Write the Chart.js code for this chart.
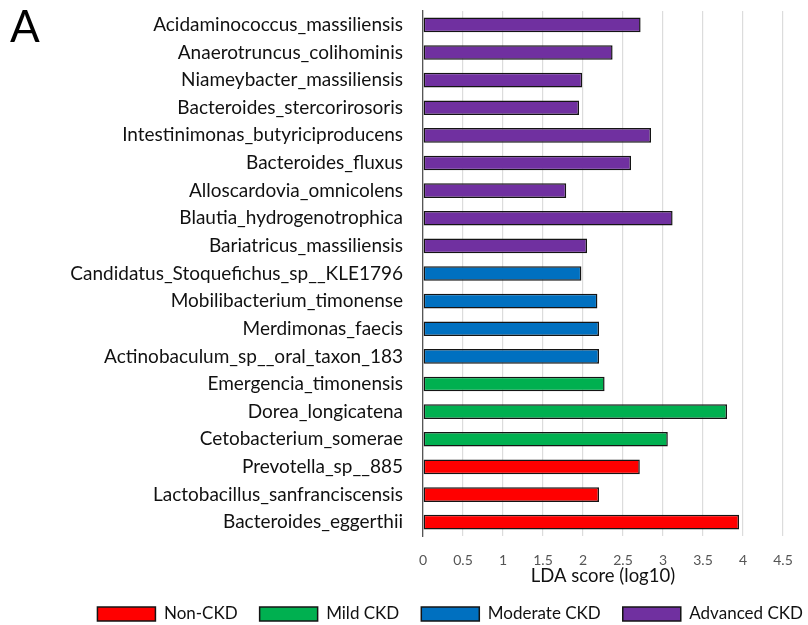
<!DOCTYPE html>
<html>
<head>
<meta charset="utf-8">
<script src="https://cdn.jsdelivr.net/npm/chart.js@4/dist/chart.umd.min.js"></script>
<style>
  html, body { margin: 0; padding: 0; background: #fff; }
  #wrap { width: 808px; height: 625px; position: relative; }
</style>
</head>
<body>
<div id="wrap"><canvas id="lda"></canvas></div>
<script>
// Taxa, top to bottom
const categories = [
  "Acidaminococcus_massiliensis",
  "Anaerotruncus_colihominis",
  "Niameybacter_massiliensis",
  "Bacteroides_stercorirosoris",
  "Intestinimonas_butyriciproducens",
  "Bacteroides_fluxus",
  "Alloscardovia_omnicolens",
  "Blautia_hydrogenotrophica",
  "Bariatricus_massiliensis",
  "Candidatus_Stoquefichus_sp__KLE1796",
  "Mobilibacterium_timonense",
  "Merdimonas_faecis",
  "Actinobaculum_sp__oral_taxon_183",
  "Emergencia_timonensis",
  "Dorea_longicatena",
  "Cetobacterium_somerae",
  "Prevotella_sp__885",
  "Lactobacillus_sanfranciscensis",
  "Bacteroides_eggerthii"
];

// LDA scores (log10) per group; null where the taxon belongs to another group
const nonCkd = [null, null, null, null, null, null, null, null, null, null,
  null, null, null, null, null, null, 2.71, 2.20, 3.95];
const mildCkd = [null, null, null, null, null, null, null, null, null, null,
  null, null, null, 2.27, 3.80, 3.06, null, null, null];
const moderateCkd = [null, null, null, null, null, null, null, null, null, 1.98,
  2.18, 2.20, 2.20, null, null, null, null, null, null];
const advancedCkd = [2.72, 2.37, 1.99, 1.95, 2.85, 2.60, 1.79, 3.12, 2.05, null,
  null, null, null, null, null, null, null, null, null];

const groupNames = ["Non-CKD", "Mild CKD", "Moderate CKD", "Advanced CKD"];
const xTicks = [0, 0.5, 1, 1.5, 2, 2.5, 3, 3.5, 4, 4.5];

const FONT = "Lato, 'Open Sans', sans-serif";

function series(label, values, color) {
  return {
    label: label,
    data: values,
    backgroundColor: color,
    borderColor: "#141414",
    borderWidth: 1.5,
    borderSkipped: false,
    barPercentage: 0.53,
    categoryPercentage: 1.0
  };
}

// Panel letter in the top-left corner
const panelLetter = {
  id: "panelLetter",
  afterDraw(chart) {
    const ctx = chart.ctx;
    ctx.save();
    ctx.fillStyle = "#000";
    ctx.font = "44px " + FONT;
    ctx.textBaseline = "alphabetic";
    ctx.textAlign = "left";
    ctx.fillText("A", 10, 42);
    ctx.restore();
  }
};

new Chart(document.getElementById("lda"), {
  type: "bar",
  data: {
    labels: categories,
    datasets: [
      series(groupNames[0], nonCkd, "#ff0000"),
      series(groupNames[1], mildCkd, "#00b050"),
      series(groupNames[2], moderateCkd, "#0070c0"),
      series(groupNames[3], advancedCkd, "#7030a0")
    ]
  },
  options: {
    indexAxis: "y",
    responsive: true,
    maintainAspectRatio: false,
    animation: false,
    layout: { padding: { top: 11, right: -17, bottom: -7.5, left: 0 } },
    plugins: {
      tooltip: { enabled: false },
      legend: {
        position: "bottom",
        align: "end",
        labels: {
          color: "#111",
          font: { family: FONT, size: 17, lineHeight: 1 },
          boxWidth: 58,
          boxHeight: 14,
          padding: 22
        }
      }
    },
    scales: {
      y: {
        stacked: true,
        afterFit(scale) {
          scale.width = 423;
          scale.paddingTop = 0;
          scale.paddingBottom = 0;
        },
        grid: { display: false, drawTicks: false },
        border: { display: true, color: "#555", width: 1.3 },
        ticks: {
          color: "#111",
          font: { family: FONT, size: 19 },
          padding: 20,
          autoSkip: false
        }
      },
      x: {
        stacked: true,
        min: 0,
        max: 4.5,
        afterBuildTicks(scale) { scale.ticks = xTicks.map(v => ({ value: v })); },
        afterFit(scale) { scale.paddingRight = 25; },
        grid: { color: "#dcdcdc", lineWidth: 1.2, drawTicks: false },
        border: { display: false },
        ticks: {
          color: "#555",
          font: { family: FONT, size: 14, lineHeight: 1 },
          padding: 17,
          callback: (v) => String(v)
        },
        title: {
          display: true,
          text: "LDA score (log10)",
          color: "#111",
          font: { family: FONT, size: 18.5, lineHeight: 1 },
          padding: { top: -17, bottom: -2 }
        }
      }
    }
  },
  plugins: [panelLetter]
});
</script>
</body>
</html>
